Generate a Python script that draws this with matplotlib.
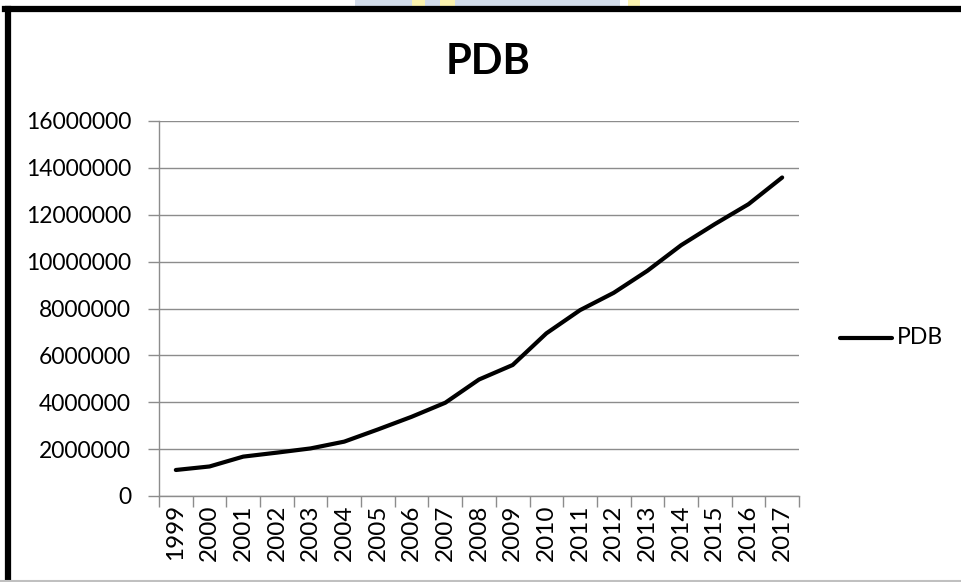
import matplotlib
matplotlib.use("Agg")
import matplotlib.pyplot as plt
from matplotlib.patches import Rectangle
from matplotlib.lines import Line2D

years = ["1999", "2000", "2001", "2002", "2003", "2004", "2005", "2006", "2007",
         "2008", "2009", "2010", "2011", "2012", "2013", "2014", "2015", "2016", "2017"]
pdb = [1110000, 1260000, 1680000, 1850000, 2030000, 2320000, 2840000, 3380000, 3980000,
       4970000, 5590000, 6940000, 7930000, 8670000, 9610000, 10700000, 11600000, 12450000, 13590000]
y_ticks = [0, 2000000, 4000000, 6000000, 8000000, 10000000, 12000000, 14000000, 16000000]

W, H = 962, 582
fig = plt.figure(figsize=(W / 100, H / 100), dpi=100)
plt.rcParams["font.family"] = ["Lato", "DejaVu Sans"]

grid_c = "#8c8c8c"
fs = 16.5
ax = fig.add_axes([159 / W, 1 - 496 / H, (799 - 159) / W, (496 - 121) / H])
x = list(range(len(years)))
ax.plot(x, pdb, color="black", lw=3.0, solid_capstyle="round", label="PDB")
ax.set_xlim(-0.5, len(years) - 0.5)
ax.set_ylim(0, 16000000)
ax.set_yticks(y_ticks)
ax.set_yticklabels([str(v) for v in y_ticks], fontsize=fs)
ax.set_xticks(x)
ax.set_xticklabels(years, rotation=90, fontsize=17.5)
ax.set_xticks([i - 0.5 for i in range(len(years) + 1)], minor=True)
ax.tick_params(axis="x", which="major", length=0, pad=6)
ax.tick_params(axis="x", which="minor", length=8, color=grid_c, width=1)
ax.tick_params(axis="y", length=8, color=grid_c, width=1, pad=12)
ax.grid(axis="y", color=grid_c, lw=1)
ax.set_axisbelow(True)
for s in ["top", "right"]:
    ax.spines[s].set_visible(False)
for s in ["left", "bottom"]:
    ax.spines[s].set_color(grid_c)
    ax.spines[s].set_linewidth(1)

fig.text(488 / W, 1 - 62 / H, "PDB", ha="center", va="center", fontsize=30, fontweight="bold")

# legend entry on the right
fig.add_artist(Line2D([840 / W, 892 / W], [1 - 338 / H, 1 - 338 / H], color="black", lw=3.0,
                      solid_capstyle="round"))
fig.text(897 / W, 1 - 338 / H, "PDB", ha="left", va="center", fontsize=fs)

# chart frame
fig.add_artist(Line2D([8 / W, 8 / W], [0, 1 - 8.5 / H], color="black", lw=4.5))
fig.add_artist(Line2D([5 / W, 1], [1 - 8.5 / H, 1 - 8.5 / H], color="black", lw=4.5))
fig.add_artist(Line2D([0, 1], [1.2 / H, 1.2 / H], color="#c0c0c0", lw=1.5))

# faint header strip above the frame
fig.add_artist(Rectangle((355 / W, 1 - 5.5 / H), (620 - 355) / W, 5.5 / H,
                         transform=fig.transFigure, color="#d3dcea", lw=0))
for x0, x1 in [(412, 425), (440, 455), (628, 640)]:
    fig.add_artist(Rectangle((x0 / W, 1 - 5.5 / H), (x1 - x0) / W, 5.5 / H,
                             transform=fig.transFigure, color="#fbf3b0", lw=0))

fig.savefig("out.png", dpi=100)
